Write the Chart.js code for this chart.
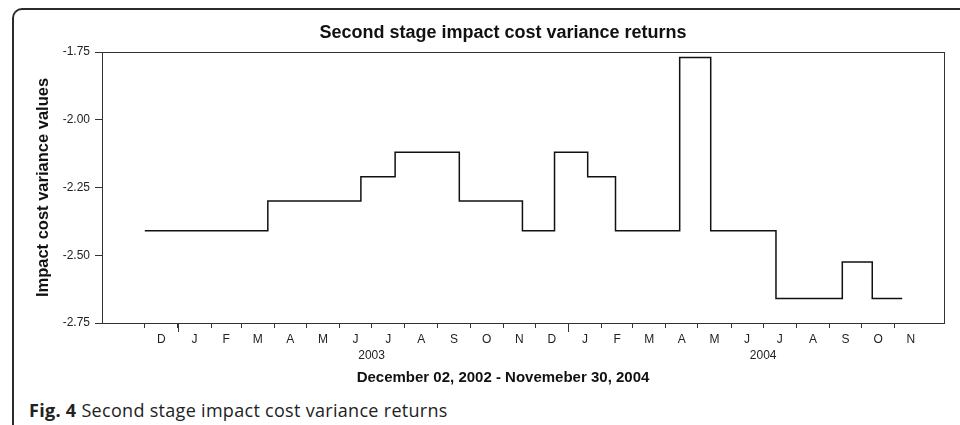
<!DOCTYPE html>
<html>
<head>
<meta charset="utf-8">
<script src="https://cdn.jsdelivr.net/npm/chart.js@4.4.1/dist/chart.umd.min.js"></script>
<style>
  html, body { margin: 0; padding: 0; background: #fff; }
  #frame {
    position: absolute; left: 12px; top: 8px; width: 980px; height: 440px;
    border-left: 2px solid #2b2b2b; border-top: 2px solid #2b2b2b;
    border-top-left-radius: 10px; box-sizing: border-box;
  }
  #wrap { position: absolute; left: 0; top: 0; width: 960px; height: 395px; }
  #caption {
    position: absolute; left: 29px; top: 400px; line-height: 20px;
    font-family: "Open Sans", sans-serif; font-size: 18px; letter-spacing: 0.3px; color: #222;
  }
</style>
</head>
<body>
<div id="frame"></div>
<div id="wrap"><canvas id="myChart"></canvas></div>
<div id="caption"><b>Fig. 4</b> Second stage impact cost variance returns</div>

<script>
"use strict";

// ========== DATA ==========
const chartTitle = "Second stage impact cost variance returns";
const xTitle = "December 02, 2002 - Novemeber 30, 2004";
const yTitle = "Impact cost variance values";

// dates where the series changes level, and the level from that date on
const stepDates = [
  "2002-12-01", "2003-03-26", "2003-06-21", "2003-07-23", "2003-09-21",
  "2003-11-19", "2003-12-19", "2004-01-19", "2004-02-14", "2004-04-14",
  "2004-05-13", "2004-07-13", "2004-09-13", "2004-10-11", "2004-11-08"
];
const stepValues = [
  -2.41, -2.30, -2.21, -2.12, -2.30,
  -2.41, -2.12, -2.21, -2.41, -1.77,
  -2.41, -2.66, -2.525, -2.66, -2.66
];

// month axis
const monthStarts = [
  "2002-12-01", "2003-01-01", "2003-02-01", "2003-03-01", "2003-04-01", "2003-05-01",
  "2003-06-01", "2003-07-01", "2003-08-01", "2003-09-01", "2003-10-01", "2003-11-01",
  "2003-12-01", "2004-01-01", "2004-02-01", "2004-03-01", "2004-04-01", "2004-05-01",
  "2004-06-01", "2004-07-01", "2004-08-01", "2004-09-01", "2004-10-01", "2004-11-01",
  "2004-12-01"
];
const monthLetters = [
  "D", "J", "F", "M", "A", "M", "J", "J", "A", "S", "O", "N",
  "D", "J", "F", "M", "A", "M", "J", "J", "A", "S", "O", "N"
];
const yearLabels = ["2003", "2004"];
const yearLabelDates = ["2003-07-01", "2004-07-01"];
const yearStartDates = ["2003-01-01", "2004-01-01"];
const yTicks = [-1.75, -2.00, -2.25, -2.50, -2.75];

// ========== HELPERS ==========
const origin = Date.UTC(2002, 11, 1);
function dayOf(s) {
  const p = s.split("-").map(Number);
  return Math.round((Date.UTC(p[0], p[1] - 1, p[2]) - origin) / 86400000);
}

const points = stepDates.map((d, i) => ({ x: dayOf(d), y: stepValues[i] }));

// boundary ticks (marks) for every month except the trailing one
const boundaryDays = monthStarts.slice(0, -1).map(dayOf);
const midDays = monthLetters.map((m, i) => (dayOf(monthStarts[i]) + dayOf(monthStarts[i + 1])) / 2);
const boundarySet = new Set(boundaryDays);
const labelMap = new Map();
midDays.forEach((d, i) => labelMap.set(d, monthLetters[i]));
boundaryDays.forEach(d => labelMap.set(d, ""));
yearLabelDates.forEach((d, i) => labelMap.set(dayOf(d), ["", yearLabels[i]]));
const xTickValues = boundaryDays.concat(midDays).sort((a, b) => a - b);

Chart.defaults.font.family = '"Liberation Sans", Arial, sans-serif';
Chart.defaults.color = "#222";

// ========== DECOR: plot box, year ticks, titles ==========
const decor = {
  id: "decor",
  afterDraw(chart) {
    const { ctx, chartArea: a, scales: { x } } = chart;
    ctx.save();
    ctx.strokeStyle = "#333";
    ctx.lineWidth = 1;
    ctx.strokeRect(Math.round(a.left) + 0.5, Math.round(a.top) + 0.5,
                   Math.round(a.width) - 1, Math.round(a.height));
    ctx.beginPath();
    yearStartDates.forEach(d => {
      const px = Math.round(x.getPixelForValue(dayOf(d))) + 0.5;
      ctx.moveTo(px, a.bottom);
      ctx.lineTo(px, a.bottom + 9);
    });
    ctx.stroke();

    const cx = a.left + 401;
    ctx.fillStyle = "#111";
    ctx.textAlign = "center";
    ctx.textBaseline = "middle";
    ctx.font = 'bold 18px "Liberation Sans", Arial, sans-serif';
    ctx.fillText(chartTitle, cx, 33);
    ctx.font = 'bold 15px "Liberation Sans", Arial, sans-serif';
    ctx.fillText(xTitle, cx, 378);
    ctx.restore();
  }
};

// ========== CHART ==========
const chartCanvas = document.getElementById("myChart");
new Chart(chartCanvas.getContext("2d"), {
  type: "line",
  data: {
    datasets: [{
      data: points,
      stepped: true,
      borderColor: "#111",
      borderWidth: 1.5,
      pointRadius: 0,
      fill: false
    }]
  },
  options: {
    responsive: true,
    maintainAspectRatio: false,
    animation: false,
    layout: { padding: { left: 26, right: 15, top: 52, bottom: 0 } },
    plugins: {
      legend: { display: false },
      tooltip: { enabled: false },
      title: { display: false }
    },
    scales: {
      x: {
        type: "linear",
        min: -40,
        max: 748,
        afterBuildTicks: scale => { scale.ticks = xTickValues.map(v => ({ value: v })); },
        afterFit: scale => { scale.height = 72; },
        ticks: {
          autoSkip: false,
          maxRotation: 0,
          padding: 4,
          font: { size: 12, lineHeight: 1.3 },
          color: "#222",
          callback: v => labelMap.has(v) ? labelMap.get(v) : ""
        },
        grid: {
          drawOnChartArea: false,
          tickLength: 5,
          tickWidth: 1,
          tickColor: c => (c.tick && boundarySet.has(c.tick.value)) ? "#333" : "rgba(0,0,0,0)"
        },
        border: { display: false }
      },
      y: {
        min: -2.75,
        max: -1.75,
        afterBuildTicks: scale => { scale.ticks = yTicks.map(v => ({ value: v })); },
        afterFit: scale => { scale.width = 102 - 26; },
        ticks: {
          padding: 5,
          font: { size: 12 },
          color: "#222",
          callback: v => v.toFixed(2)
        },
        grid: {
          drawOnChartArea: false,
          tickLength: 7,
          tickColor: "#333"
        },
        border: { display: false },
        title: {
          display: true,
          text: yTitle,
          font: { size: 16.5, weight: "bold" },
          color: "#111",
          padding: { top: 8, bottom: 0 }
        }
      }
    }
  },
  plugins: [decor]
});
</script>
</body>
</html>
